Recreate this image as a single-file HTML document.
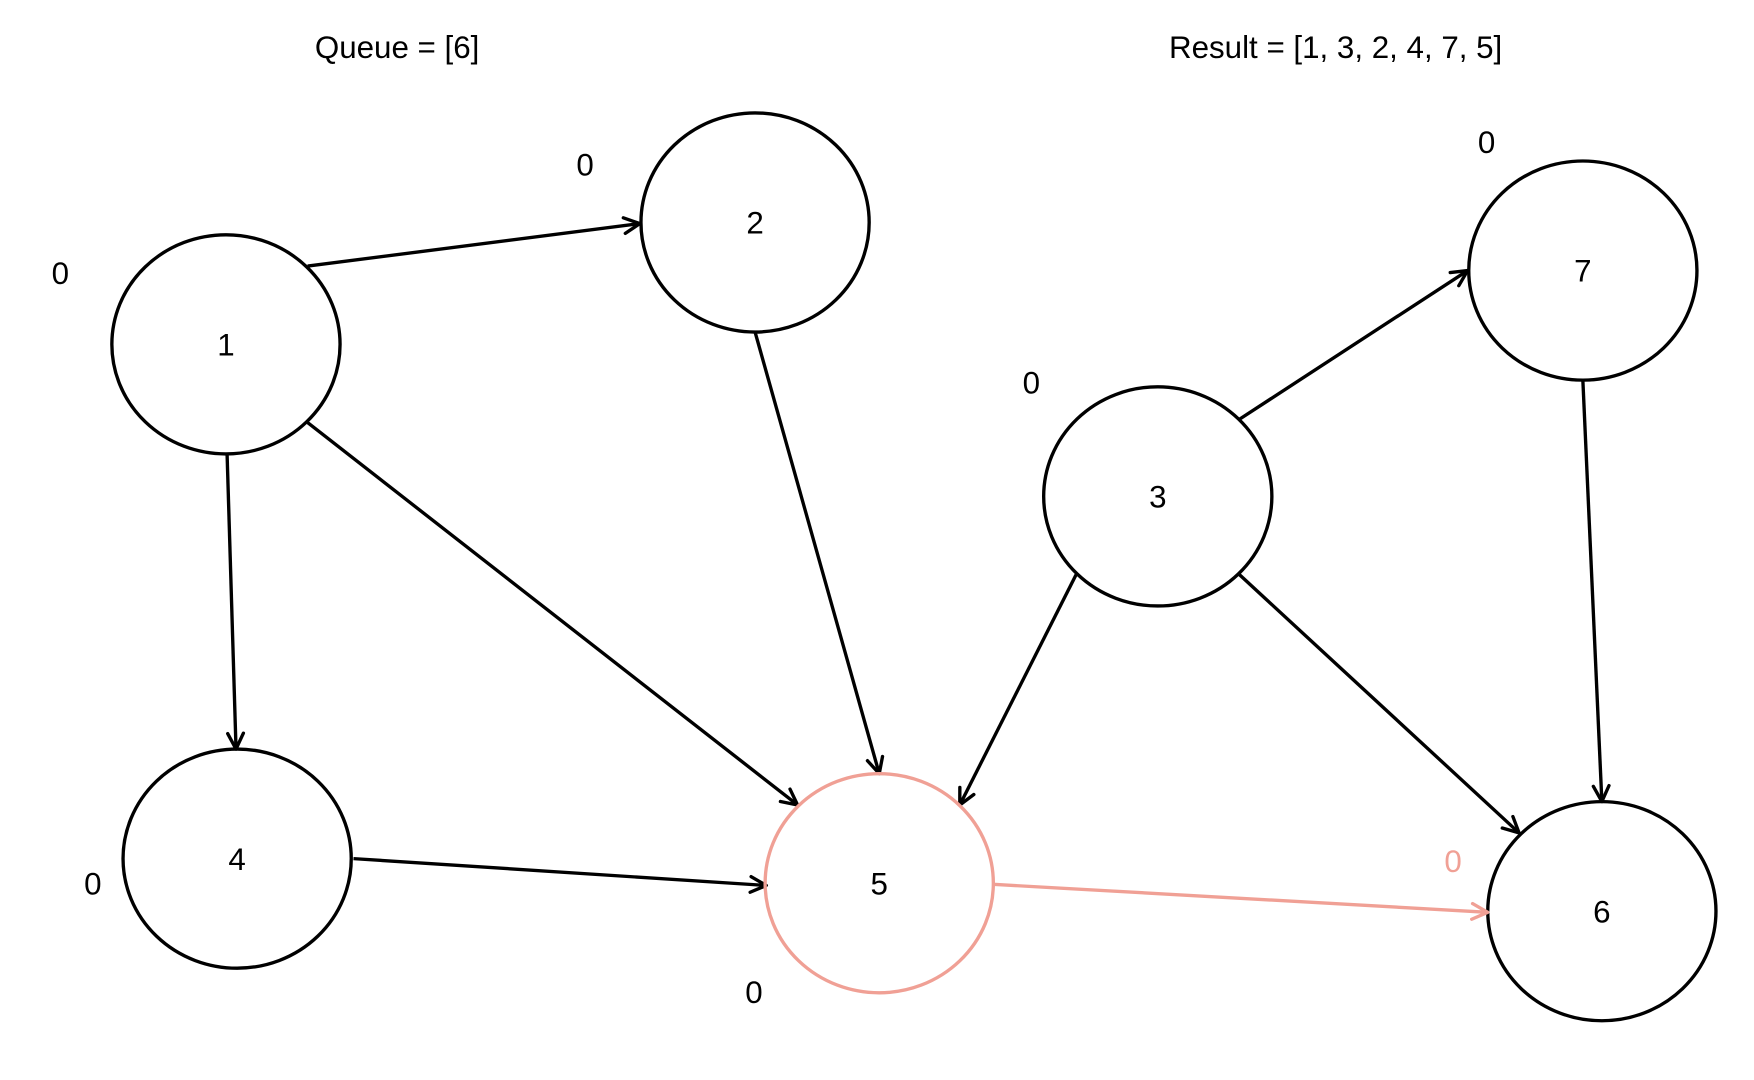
<!DOCTYPE html>
<html><head><meta charset="utf-8"><style>html,body{margin:0;padding:0;background:#fff}svg{display:block}</style></head>
<body>
<svg width="1754" height="1080" viewBox="0 0 1568 966" preserveAspectRatio="none" xmlns="http://www.w3.org/2000/svg">
<defs>
<marker id="a" viewBox="0 0 20 20" refX="18" refY="10" markerWidth="20" markerHeight="20" markerUnits="userSpaceOnUse" orient="auto">
<path d="M4 3 L18 10 L4 17" fill="none" stroke="#000" stroke-width="3" stroke-linecap="round" stroke-linejoin="round"/></marker>
<marker id="r" viewBox="0 0 20 20" refX="18" refY="10" markerWidth="20" markerHeight="20" markerUnits="userSpaceOnUse" orient="auto">
<path d="M4 3 L18 10 L4 17" fill="none" stroke="#f0a095" stroke-width="3" stroke-linecap="round" stroke-linejoin="round"/></marker>
</defs>
<g font-family="Liberation Sans, sans-serif" font-size="28" text-anchor="middle" fill="#000">
<text x="355" y="52">Queue = [6]</text>
<text x="1194" y="52">Result = [1, 3, 2, 4, 7, 5]</text>
</g>
<g stroke="#000" stroke-width="3" fill="none">
<line x1="275" y1="238" x2="572" y2="200" marker-end="url(#a)"/>
<line x1="203" y1="406" x2="211" y2="670" marker-end="url(#a)"/>
<line x1="275" y1="378" x2="713" y2="720" marker-end="url(#a)"/>
<line x1="675" y1="297" x2="786" y2="692" marker-end="url(#a)"/>
<line x1="1108" y1="375" x2="1312" y2="242" marker-end="url(#a)"/>
<line x1="962" y1="514" x2="858" y2="720" marker-end="url(#a)"/>
<line x1="1108" y1="514" x2="1358" y2="745" marker-end="url(#a)"/>
<line x1="1415" y1="340" x2="1432" y2="717" marker-end="url(#a)"/>
<line x1="316" y1="768" x2="685" y2="792" marker-end="url(#a)"/>
<ellipse cx="202" cy="308" rx="102" ry="98"/>
<ellipse cx="675" cy="199" rx="102" ry="98"/>
<ellipse cx="1415" cy="242" rx="102" ry="98"/>
<ellipse cx="1035" cy="444" rx="102" ry="98"/>
<ellipse cx="212" cy="768" rx="102" ry="98"/>
<ellipse cx="1432" cy="815" rx="102" ry="98"/>
</g>
<g stroke="#f0a095" stroke-width="3" fill="none">
<line x1="888" y1="791" x2="1330" y2="816" marker-end="url(#r)"/>
<ellipse cx="786" cy="790" rx="102" ry="98"/>
</g>
<g font-family="Liberation Sans, sans-serif" font-size="28" text-anchor="middle" fill="#000">
<text x="202" y="318">1</text>
<text x="675" y="209">2</text>
<text x="1415" y="252">7</text>
<text x="1035" y="454">3</text>
<text x="212" y="778">4</text>
<text x="786" y="800">5</text>
<text x="1432" y="825">6</text>
<text x="54" y="254">0</text>
<text x="523" y="157">0</text>
<text x="1329" y="137">0</text>
<text x="922" y="352">0</text>
<text x="83" y="800">0</text>
<text x="674" y="897">0</text>
<text x="1299" y="780" fill="#f0a095">0</text>
</g>
</svg>
</body></html>
